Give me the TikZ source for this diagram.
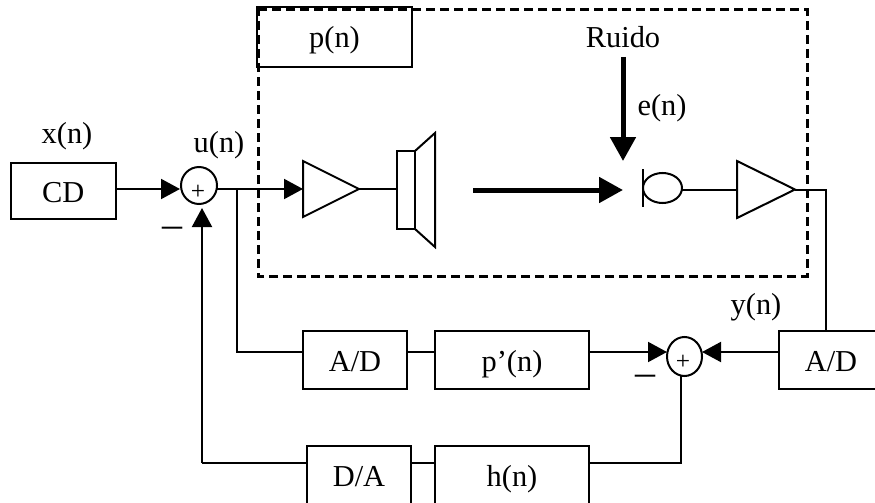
\documentclass[tikz,border=0pt]{standalone}
\usepackage{fontspec}
\setmainfont{Liberation Serif}
\usetikzlibrary{arrows.meta,shapes.geometric,calc}
\newcommand{\lbl}{\fontsize{22.8}{26}\selectfont}
\tikzset{
  conn/.style={line width=1.5pt,line join=miter},
  tip/.style={conn,-{Triangle[length=14.25pt,width=15pt]}},
  bigtip/.style={line width=3.75pt,-{Triangle[length=18pt,width=18.75pt]}},
  bx/.style 2 args={draw,line width=1.5pt,rectangle,outer sep=0pt,inner sep=0pt,
    minimum width=#1*0.75pt,minimum height=#2*0.75pt,
    font=\lbl,text height=16.5pt,text depth=0pt},
  sumnode/.style 2 args={draw,line width=1.5pt,ellipse,outer sep=0pt,inner sep=0pt,
    minimum width=#1*0.75pt,minimum height=#2*0.75pt},
  txt/.style={anchor=base,font=\lbl,inner sep=0pt},
  plus/.style={font=\fontsize{19}{21}\selectfont,inner sep=0pt},
  minus/.style={anchor=base,font=\fontsize{30}{32}\selectfont,inner sep=0pt},
  part/.style={line width=1.5pt,line join=miter},
  frame/.style={line width=2.25pt,dash pattern=on 6.75pt off 3.75pt}
}
\begin{document}
\begin{tikzpicture}[x=0.75pt,y=-0.75pt]
\clip (0,0) rectangle (875,503);
% boxes
\node[bx={104.5}{56}] (cd) at (63.25,191) {CD};
\node[bx={155}{60}] (pn) at (334.5,37) {p(n)};
\node[bx={104}{58}] (ad1) at (355,360) {A/D};
\node[bx={154}{58}] (pp) at (512,360) {p’(n)};
\node[bx={104}{58}] (ad2) at (831,360) {A/D};
\node[bx={104}{58}] (da) at (359,475) {D/A};
\node[bx={154}{58}] (hn) at (512,475) {h(n)};
% summing junctions
\node[sumnode={36}{37}] (s1) at (199,185.5) {};
\node[sumnode={35}{39}] (s2) at (684.5,356.5) {};
\node[plus] (p1) at (198,192) {+};
\node[plus] (p2) at (683,362) {+};
% amplifiers
\coordinate (a1in) at (303,189);
\coordinate (a1out) at (359,189);
\draw[part] (303,161) -- (a1out) -- (303,217) -- cycle;
\coordinate (a2in) at (737,189.5);
\coordinate (a2out) at (795,189.5);
\draw[part] (737,161) -- (a2out) -- (737,218) -- cycle;
% speaker
\node[draw,line width=1.5pt,rectangle,outer sep=0pt,inner sep=0pt,minimum width=13.5pt,minimum height=58.5pt] (spk) at (406,190) {};
\draw[part] (spk.north east) -- (435,133) -- (435,247) -- (spk.south east);
% microphone
\node[draw,line width=1.5pt,ellipse,outer sep=0pt,inner sep=0pt,minimum width=29.25pt,minimum height=22.5pt] (mic) at (662.5,188) {};
\coordinate (mt) at (643,169);
\coordinate (mb) at (643,207);
\draw[part] (mt) -- (mb);
% connectors
\coordinate (s1in) at (180,189);
\coordinate (j1) at (237,189);
\coordinate (s2l) at (667,352);
\coordinate (s2r) at (702,352);
\coordinate (j2) at (237,352);
\coordinate (j3) at (202,463);
\coordinate (s1b) at (202,208);
\coordinate (j4) at (681,463);
\coordinate (j5) at (826,189.5);
\draw[tip] (cd.east |- s1in) -- (s1in);
\draw[conn] (s1in -| s1.east) -- (j1);
\draw[tip] (j1) -- (a1in);
\draw[conn] (a1out) -- (spk.west |- a1out);
\draw[conn] (mic.east |- a2in) -- (a2in);
\draw[conn] (a2out) -- (j5) -- (ad2.north -| j5);
\draw[conn] (j1) -- (j2) -- (ad1.west |- j2);
\draw[conn] (ad1.east |- j2) -- (pp.west |- j2);
\draw[tip] (pp.east |- j2) -- (s2l);
\draw[tip] (ad2.west |- s2r) -- (s2r);
\draw[conn] (s2.south -| j4) -- (j4) -- (hn.east |- j4);
\draw[conn] (hn.west |- j4) -- (da.east |- j4);
\draw[conn] (da.west |- j3) -- (j3);
\draw[tip] (j3) -- (s1b);
% thick arrows
\coordinate (bs) at (473,190);
\coordinate (be) at (623,190);
\coordinate (ns) at (623,57);
\coordinate (ne) at (623,161);
\draw[bigtip] (bs) -- (be);
\draw[bigtip] (ns) -- (ne);
% plant frame
\draw[frame] (258,10) -- (807,10) -- (807,276) -- (258,276) -- cycle;
% labels
\node[txt] (lx) at (67,143) {x(n)};
\node[txt] (lu) at (219,152) {u(n)};
\node[txt] (lr) at (623,48) {Ruido};
\node[txt] (le) at (662,116) {e(n)};
\node[txt] (ly) at (756,314) {y(n)};
\node[minus] (m1) at (172,237) {–};
\node[minus] (m2) at (645,385) {–};
\end{tikzpicture}
\end{document}
